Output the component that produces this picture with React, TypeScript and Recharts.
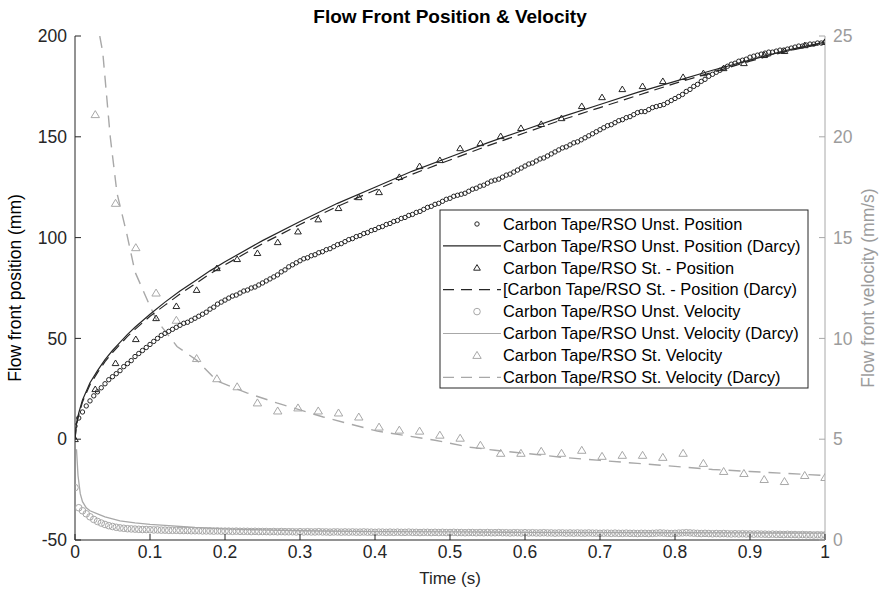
import React from "react";
import { ComposedChart, Line, XAxis, YAxis, Customized } from "recharts";

const FONT = '"Liberation Sans", Arial, Helvetica, sans-serif';
const DARK = "#262626";
const GREY = "#a8a8a8";
const GREY_TEXT = "#9c9c9c";

// unsteady run: sampled every 5 ms
const UNST_DT = 0.005;
const unstPosition = [
  6.5, 10.5, 13.5, 16.5, 19, 21.5, 23.5, 25.5, 27.5, 29.5,
  31, 32.5, 34, 36, 37.5, 39, 41, 42.5, 44, 45.5,
  47, 48.5, 50, 51.5, 52.5, 53.5, 54.5, 55.5, 56.5, 57.5,
  58, 59, 60, 61, 62, 63, 64.5, 65.5, 67, 68,
  69, 70, 71, 71.5, 72.5, 73.5, 74, 75, 75.5, 76.5,
  77.5, 78.5, 79.5, 80.5, 81.5, 83, 84, 85.5, 86.5, 87.5,
  88.5, 89.5, 90, 91, 91.5, 92.5, 93, 94, 94.5, 95.5,
  96.5, 97, 98, 99, 99.5, 100.5, 101, 102, 102.5, 103.5,
  104, 105, 105.5, 106.5, 107, 108, 108.5, 109.5, 110, 111,
  111.5, 112.5, 113, 114, 115, 115.5, 116.5, 117, 118, 119,
  119.5, 120.5, 121, 121.5, 122, 123, 124, 124.5, 125.5, 126,
  127, 128, 128.5, 129, 130, 131, 131.5, 132.5, 133.5, 134.5,
  135.5, 136.5, 137, 138, 139, 139.5, 140.5, 141.5, 142.5, 143.5,
  144.5, 145, 146, 147, 147.5, 148.5, 149.5, 150.5, 151.5, 152.5,
  153.5, 154.5, 155.5, 156, 157, 158, 158.5, 159.5, 160, 161,
  162, 162.5, 162.5, 163.5, 164.5, 165, 165.5, 166, 167, 168,
  169, 170, 171, 172.5, 173.5, 175, 176, 177.5, 178.5, 180,
  181, 182, 183, 184, 185, 186, 186.5, 187.5, 188, 188.5,
  189.5, 190, 190.5, 191, 191.5, 192, 192, 192.5, 193, 193,
  193.5, 194, 194.5, 195, 195, 195.5, 196, 196, 196.5, 196.5,
  197,
];
const unstVelocity = [
  2.6, 1.6, 1.45, 1.3, 1.15, 1.02, 0.92, 0.84, 0.77, 0.71,
  0.67, 0.63, 0.6, 0.58, 0.56, 0.55, 0.54, 0.53, 0.52, 0.52,
  0.51, 0.5, 0.5, 0.49, 0.49, 0.48, 0.48, 0.48, 0.47, 0.47,
  0.47, 0.46, 0.46, 0.46, 0.45, 0.45, 0.45, 0.44, 0.45, 0.44,
  0.44, 0.44, 0.43, 0.44, 0.43, 0.43, 0.43, 0.42, 0.43, 0.42,
  0.42, 0.42, 0.41, 0.42, 0.41, 0.42, 0.41, 0.41, 0.41, 0.4,
  0.41, 0.4, 0.41, 0.4, 0.4, 0.41, 0.4, 0.4, 0.39, 0.4,
  0.4, 0.39, 0.4, 0.39, 0.4, 0.39, 0.39, 0.4, 0.39, 0.39,
  0.38, 0.39, 0.39, 0.38, 0.39, 0.38, 0.39, 0.38, 0.38, 0.39,
  0.38, 0.38, 0.37, 0.38, 0.38, 0.37, 0.38, 0.37, 0.38, 0.37,
  0.37, 0.38, 0.37, 0.37, 0.36, 0.37, 0.37, 0.36, 0.37, 0.36,
  0.37, 0.36, 0.36, 0.37, 0.36, 0.36, 0.35, 0.36, 0.36, 0.35,
  0.36, 0.35, 0.36, 0.35, 0.35, 0.36, 0.35, 0.35, 0.34, 0.35,
  0.35, 0.34, 0.35, 0.34, 0.35, 0.34, 0.34, 0.35, 0.34, 0.34,
  0.33, 0.34, 0.34, 0.33, 0.34, 0.33, 0.33, 0.34, 0.33, 0.33,
  0.32, 0.33, 0.33, 0.32, 0.33, 0.34, 0.35, 0.34, 0.33, 0.32,
  0.33, 0.34, 0.35, 0.36, 0.35, 0.34, 0.33, 0.32, 0.33, 0.32,
  0.31, 0.32, 0.31, 0.32, 0.31, 0.3, 0.31, 0.3, 0.31, 0.3,
  0.3, 0.29, 0.3, 0.29, 0.29, 0.28, 0.29, 0.28, 0.28, 0.27,
  0.28, 0.27, 0.27, 0.26, 0.27, 0.26, 0.26, 0.25, 0.26, 0.25,
  0.25,
];

// steady run: 38 readings over one second
const ST_DT = 1 / 37;
const stPosition = [
  0, 24.8, 37.7, 49.6, 60, 66, 74, 84.8, 89.3, 92.3,
  97.7, 103, 109, 114.6, 120, 122.5, 130, 135.4, 138.4, 144.3,
  146.8, 150.3, 154.3, 156.3, 159.2, 165.2, 169.6, 173.6, 175.1, 177.6,
  179.6, 181.5, 184, 186.5, 190.5, 192.5, 195.4, 197,
];
// velocity starts from the second reading
const stVelocity = [
  21.1, 16.7, 14.5, 12.25, 10.9, 9.0, 8.0, 7.6, 6.8, 6.4,
  6.55, 6.4, 6.3, 6.1, 5.6, 5.45, 5.4, 5.2, 5.05, 4.7,
  4.3, 4.3, 4.4, 4.3, 4.45, 4.15, 4.2, 4.2, 4.1, 4.3,
  3.8, 3.4, 3.3, 3.0, 2.9, 3.2, 3.1,
];

// Darcy predictions
const darcyTime = [
  0, 0.002, 0.005, 0.01, 0.02, 0.03, 0.04, 0.05, 0.06, 0.07, 0.08, 0.1, 0.12, 0.14, 0.16, 0.18, 0.2,
  0.25, 0.3, 0.35, 0.4, 0.45, 0.5, 0.55, 0.6, 0.65, 0.7, 0.75, 0.8, 0.85, 0.9, 0.95, 1,
];
const unstPositionDarcy = [
  0, 8, 13, 19.5, 28, 34, 39.5, 44, 48, 52, 55.5, 62, 68, 73.5, 78.5, 83.5, 88,
  98.5, 108, 117, 125, 133, 140, 147, 153.5, 160, 166, 172, 177.5, 183, 188, 193, 197,
];
const stPositionDarcy = [
  0, 7, 12, 18.5, 27, 33, 38.5, 43, 47, 51, 54.5, 61, 66.5, 72, 77, 82, 86.5,
  97, 106.5, 115.5, 123.5, 131.5, 138.5, 145.5, 152, 158.5, 164.5, 170.5, 176.5, 182, 187.5, 192.5, 196.5,
];

const unstVelDarcyTime = [
  0.002, 0.004, 0.007, 0.01, 0.015, 0.02, 0.03, 0.04, 0.05, 0.06, 0.08, 0.1, 0.13, 0.16,
  0.2, 0.25, 0.3, 0.4, 0.5, 0.6, 0.7, 0.8, 0.9, 1,
];
const unstVelocityDarcy = [
  4.5, 3.2, 2.3, 1.9, 1.6, 1.45, 1.3, 1.15, 1.05, 0.95, 0.85, 0.78, 0.7, 0.62,
  0.55, 0.5, 0.46, 0.42, 0.4, 0.38, 0.37, 0.36, 0.35, 0.34,
];

const stVelDarcyTime = [
  0.033, 0.037, 0.047, 0.056, 0.069, 0.08, 0.1, 0.109, 0.136, 0.163, 0.189, 0.229, 0.269,
  0.331, 0.403, 0.48, 0.527, 0.56, 0.6, 0.65, 0.7, 0.75, 0.8, 0.85, 0.9, 0.95, 1,
];
const stVelocityDarcy = [
  25, 24.2, 20, 17.2, 15.2, 13.3, 11.6, 10.9, 9.6, 8.9, 7.9, 7.3, 6.8,
  6.1, 5.4, 4.95, 4.6, 4.45, 4.3, 4.1, 3.95, 3.8, 3.65, 3.5, 3.4, 3.3, 3.2,
];

const xTicks = [0, 0.1, 0.2, 0.3, 0.4, 0.5, 0.6, 0.7, 0.8, 0.9, 1];
const posTicks = [-50, 0, 50, 100, 150, 200];
const velTicks = [0, 5, 10, 15, 20, 25];

const toPoints = (ts: number[], vs: number[]) => vs.map((v, i) => ({ t: ts[i], v }));
const onGrid = (dt: number, vs: number[], start = 0) => vs.map((v, i) => ({ t: (i + start) * dt, v }));

const unstPosData = onGrid(UNST_DT, unstPosition);
const unstVelData = onGrid(UNST_DT, unstVelocity);
const stPosData = onGrid(ST_DT, stPosition);
const stVelData = onGrid(ST_DT, stVelocity, 1);
const unstPosDarcyData = toPoints(darcyTime, unstPositionDarcy);
const stPosDarcyData = toPoints(darcyTime, stPositionDarcy);
const unstVelDarcyData = toPoints(unstVelDarcyTime, unstVelocityDarcy);
const stVelDarcyData = toPoints(stVelDarcyTime, stVelocityDarcy);

const LEFT = 75;
const RIGHT = 825;
const TOP = 36;
const BOTTOM = 540;
const W = 882;
const H = 596;
const TICK_FONT = 17.5;

const triPath = (cx: number, cy: number, s: number) =>
  `M${cx},${cy - s} L${cx + s * 1.05},${cy + s * 0.75} L${cx - s * 1.05},${cy + s * 0.75} Z`;

const circleDot = (r: number, color: string) => (p: any) =>
  p.cx == null ? <g key={p.index} /> : (
    <circle key={p.index} cx={p.cx} cy={p.cy} r={r} fill="none" stroke={color} strokeWidth={1} />
  );

const triangleDot = (s: number, color: string) => (p: any) =>
  p.cx == null ? <g key={p.index} /> : (
    <path key={p.index} d={triPath(p.cx, p.cy, s)} fill="none" stroke={color} strokeWidth={1} />
  );

const LeftTick = (p: any) => (
  <g>
    <line x1={LEFT} x2={LEFT + 6} y1={p.y} y2={p.y} stroke={DARK} />
    <text x={LEFT - 8} y={p.y} dy="0.35em" textAnchor="end" fontSize={TICK_FONT} fontFamily={FONT} fill={DARK}>
      {p.payload.value}
    </text>
  </g>
);

const RightTick = (p: any) => (
  <g>
    <line x1={RIGHT - 6} x2={RIGHT} y1={p.y} y2={p.y} stroke={GREY} />
    <text x={RIGHT + 8} y={p.y} dy="0.35em" textAnchor="start" fontSize={TICK_FONT} fontFamily={FONT} fill={GREY_TEXT}>
      {p.payload.value}
    </text>
  </g>
);

const BottomTick = (p: any) => (
  <g>
    <line x1={p.x} x2={p.x} y1={BOTTOM} y2={BOTTOM - 6} stroke={DARK} />
    <text x={p.x} y={BOTTOM + 18} textAnchor="middle" fontSize={TICK_FONT} fontFamily={FONT} fill={DARK}>
      {p.payload.value}
    </text>
  </g>
);

const Titles = () => (
  <g fontFamily={FONT}>
    <text x={450} y={23} textAnchor="middle" fontSize={19} fontWeight="bold" fill="#000">
      Flow Front Position &amp; Velocity
    </text>
    <text x={450} y={584} textAnchor="middle" fontSize={17} fill={DARK}>
      Time (s)
    </text>
    <text transform="translate(21,288) rotate(-90)" textAnchor="middle" fontSize={17.5} fill="#000">
      Flow front position (mm)
    </text>
    <text transform="translate(874,288) rotate(-90)" textAnchor="middle" fontSize={17.5} fill={GREY_TEXT}>
      Flow front velocity (mm/s)
    </text>
  </g>
);

type Entry = { label: string; kind: "circle" | "tri" | "line" | "dash"; color: string; big?: boolean };
const legendEntries: Entry[] = [
  { label: "Carbon Tape/RSO Unst. Position", kind: "circle", color: DARK },
  { label: "Carbon Tape/RSO Unst. Position (Darcy)", kind: "line", color: DARK },
  { label: "Carbon Tape/RSO St. - Position", kind: "tri", color: DARK },
  { label: "[Carbon Tape/RSO St. - Position (Darcy)", kind: "dash", color: DARK },
  { label: "Carbon Tape/RSO Unst. Velocity", kind: "circle", color: GREY, big: true },
  { label: "Carbon Tape/RSO Unst. Velocity (Darcy)", kind: "line", color: GREY },
  { label: "Carbon Tape/RSO St. Velocity", kind: "tri", color: GREY, big: true },
  { label: "Carbon Tape/RSO St. Velocity (Darcy)", kind: "dash", color: GREY },
];

const LegendBox = () => {
  const x0 = 440;
  const y0 = 210;
  const rowH = 21.9;
  return (
    <g fontFamily={FONT}>
      <rect x={x0} y={y0} width={368} height={178} fill="#fff" stroke={DARK} strokeWidth={1} />
      {legendEntries.map((e, i) => {
        const cy = y0 + 14 + i * rowH;
        let sample;
        if (e.kind === "circle") sample = <circle cx={x0 + 37} cy={cy} r={e.big ? 3.3 : 2.2} fill="none" stroke={e.color} />;
        else if (e.kind === "tri") sample = <path d={triPath(x0 + 37, cy, e.big ? 4 : 3.2)} fill="none" stroke={e.color} />;
        else
          sample = (
            <line x1={x0 + 3} x2={x0 + 61} y1={cy} y2={cy} stroke={e.color} strokeWidth={1.2}
              strokeDasharray={e.kind === "dash" ? "11 7" : undefined} />
          );
        return (
          <g key={e.label}>
            {sample}
            <text x={x0 + 63} y={cy} dy="0.35em" fontSize={16.4} fill="#000">{e.label}</text>
          </g>
        );
      })}
    </g>
  );
};

export default function App() {
  return (
    <div style={{ position: "absolute", left: 0, top: 0, width: W, height: H, background: "#fff" }}>
      <ComposedChart width={W} height={H} margin={{ top: TOP, right: 0, bottom: 0, left: 0 }}>
        <XAxis
          type="number" dataKey="t" domain={[0, 1]} ticks={xTicks} height={H - BOTTOM}
          axisLine={{ stroke: DARK }} tickLine={false} tick={<BottomTick />} allowDataOverflow
        />
        <YAxis
          yAxisId="pos" type="number" dataKey="v" domain={[-50, 200]} ticks={posTicks} width={LEFT}
          axisLine={{ stroke: DARK }} tickLine={false} tick={<LeftTick />} allowDataOverflow
        />
        <YAxis
          yAxisId="vel" orientation="right" type="number" dataKey="v" domain={[0, 25]} ticks={velTicks}
          width={W - RIGHT} axisLine={{ stroke: GREY }} tickLine={false} tick={<RightTick />} allowDataOverflow
        />

        <Line yAxisId="vel" data={stVelDarcyData} dataKey="v" stroke={GREY} strokeWidth={1.4}
          strokeDasharray="12 8" dot={false} activeDot={false} isAnimationActive={false} />
        <Line yAxisId="vel" data={unstVelDarcyData} dataKey="v" stroke={GREY} strokeWidth={1.3}
          dot={false} activeDot={false} isAnimationActive={false} />
        <Line yAxisId="vel" data={unstVelData} dataKey="v" stroke="none"
          dot={circleDot(3.3, GREY)} activeDot={false} isAnimationActive={false} />
        <Line yAxisId="vel" data={stVelData} dataKey="v" stroke="none"
          dot={triangleDot(4, GREY)} activeDot={false} isAnimationActive={false} />

        <Line yAxisId="pos" data={unstPosDarcyData} dataKey="v" stroke={DARK} strokeWidth={1.2}
          dot={false} activeDot={false} isAnimationActive={false} />
        <Line yAxisId="pos" data={stPosDarcyData} dataKey="v" stroke={DARK} strokeWidth={1.2}
          strokeDasharray="10 6" dot={false} activeDot={false} isAnimationActive={false} />
        <Line yAxisId="pos" data={unstPosData} dataKey="v" stroke="none"
          dot={circleDot(2.2, DARK)} activeDot={false} isAnimationActive={false} />
        <Line yAxisId="pos" data={stPosData} dataKey="v" stroke="none"
          dot={triangleDot(3.2, DARK)} activeDot={false} isAnimationActive={false} />

        <Customized component={Titles} />
        <Customized component={LegendBox} />
      </ComposedChart>
    </div>
  );
}
